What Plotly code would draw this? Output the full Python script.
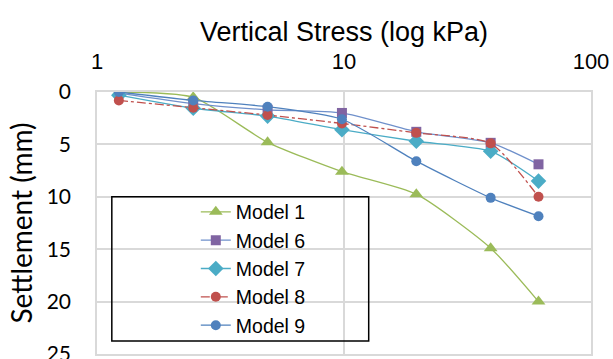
import plotly.graph_objects as go

stress = [1.226, 2.4525, 4.905, 9.81, 19.62, 39.24, 61.3]
model1 = [0.0, 0.5, 4.8, 7.6, 9.75, 14.9, 20.0]
model6 = [0.1, 1.1, 1.7, 2.0, 3.8, 4.85, 6.9]
model7 = [0.3, 1.55, 2.3, 3.6, 4.7, 5.65, 8.5]
model8 = [0.8, 1.5, 2.2, 3.0, 3.9, 4.9, 10.0]
model9 = [0.0, 0.8, 1.4, 2.6, 6.6, 10.1, 11.85]

series = [
    ("Model 1", model1, "#9BBB59", "#9BBB59", "triangle-up", 12, "solid"),
    ("Model 6", model6, "#6F90CB", "#8064A2", "square", 10, "solid"),
    ("Model 7", model7, "#4BACC6", "#4BACC6", "diamond", 12, "solid"),
    ("Model 8", model8, "#C0504D", "#C0504D", "circle", 10, "dashdot"),
    ("Model 9", model9, "#4F81BD", "#4F81BD", "circle", 10, "solid"),
]

fig = go.Figure()
for name, ys, lc, mc, sym, sz, dash in series:
    fig.add_trace(go.Scatter(
        x=stress, y=ys, name=name, mode="lines+markers",
        line=dict(color=lc, width=1.3, shape="spline", smoothing=0.6, dash=dash),
        marker=dict(symbol=sym, size=sz, color=mc, line=dict(width=0)),
    ))

fig.add_shape(type="rect", xref="paper", yref="paper",
              x0=0.030, x1=0.550, y0=0.050, y1=0.600,
              line=dict(color="black", width=1.5), fillcolor="rgba(0,0,0,0)")

fig.update_layout(
    width=613, height=359,
    margin=dict(l=97, r=22, t=92, b=5),
    paper_bgcolor="white", plot_bgcolor="white",
    font=dict(family="Liberation Sans, Arial", size=22, color="black"),
    showlegend=True,
    legend=dict(x=0.200, y=0.616, xanchor="left", yanchor="top",
                bgcolor="rgba(0,0,0,0)", borderwidth=0,
                font=dict(size=19.5, family="Liberation Sans, Arial"),
                tracegroupgap=0),
    xaxis=dict(type="log", range=[0, 2], side="top", automargin=False,
               tickvals=[1, 10, 100], ticktext=["1", "10", "100"],
               showgrid=True, gridcolor="#D9D9D9", gridwidth=1.5,
               showline=True, linecolor="#D9D9D9", linewidth=1.5, mirror=True,
               ticks="", ticklabelstandoff=12, ticklabeloverflow="allow",
               tickfont=dict(size=22),
               title=dict(text="Vertical Stress (log kPa)", font=dict(size=27), standoff=0),
               zeroline=False),
    yaxis=dict(range=[25, 0], tickvals=[0, 5, 10, 15, 20, 25], automargin=False,
               showgrid=True, gridcolor="#D9D9D9", gridwidth=1.5,
               showline=True, linecolor="#D9D9D9", linewidth=1.5, mirror=True,
               ticks="", ticklabelstandoff=20, ticklabeloverflow="allow",
               tickfont=dict(size=21, family="Lato, Noto Sans"),
               title=dict(text="Settlement (mm)", font=dict(size=28, family="Lato, Noto Sans"), standoff=6),
               zeroline=False),
)

fig.write_html("out.html", config={"displayModeBar": False},
               post_script="document.body.style.margin='0';")
